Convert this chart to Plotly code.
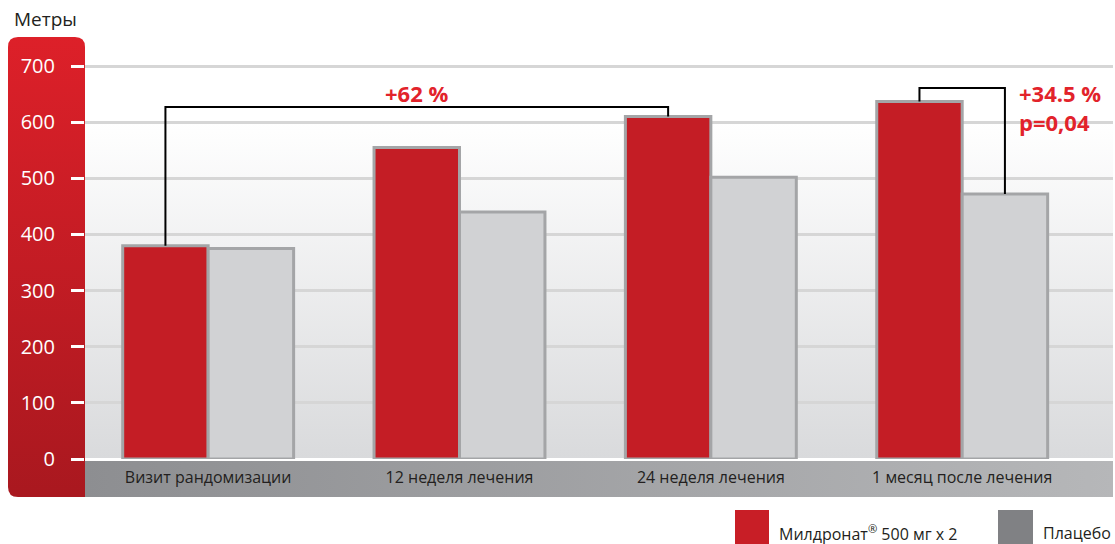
import base64
import plotly.graph_objects as go

# ---------------- data ----------------
categories = ["Визит рандомизации", "12 неделя лечения", "24 неделя лечения", "1 месяц после лечения"]
series_names = ["Милдронат<sup>®</sup> 500 мг x 2", "Плацебо"]
mildronat = [380, 555, 610, 637]
placebo = [375, 440, 502, 472]
y_ticks = [0, 100, 200, 300, 400, 500, 600, 700]
y_title = "Метры"
note_main = "+62 %"
note_side = ["+34.5 %", "p=0,04"]

# ---------------- geometry helpers ----------------
W, H = 1115, 544
ML, MR, MT, MB = 85, 2, 38, 85
PW, PH = W - ML - MR, H - MT - MB
BARGAP = 0.32
OFF = (1 - BARGAP) / 4  # centre offset of each bar inside a group


def px(x):
    return (x - ML) / PW


def py(y):
    return (H - MB - y) / PH


RED = "#c41d25"
GREY_BAR = "#d1d2d4"
TXT_RED = "#e2232b"
DARK = "#231f20"

# decorative background (red axis panel, grey category band, plot gradient)
svg = f"""<svg xmlns='http://www.w3.org/2000/svg' width='{W}' height='{H}' viewBox='0 0 {W} {H}'>
<defs>
<linearGradient id='r' x1='0' y1='0' x2='0' y2='1'>
<stop offset='0' stop-color='#dd2029'/><stop offset='1' stop-color='#a9181f'/></linearGradient>
<linearGradient id='g' x1='0' y1='0' x2='1' y2='0'>
<stop offset='0' stop-color='#8d8e91'/><stop offset='1' stop-color='#b6b7b9'/></linearGradient>
<linearGradient id='b' x1='0' y1='0' x2='0' y2='1'>
<stop offset='0' stop-color='#ffffff'/><stop offset='0.2' stop-color='#ffffff'/><stop offset='1' stop-color='#d9dadc'/></linearGradient>
</defs>
<rect x='{ML}' y='{MT}' width='{PW}' height='{PH}' fill='url(#b)'/>
<rect x='{ML}' y='{H-MB+1}' width='{PW}' height='37' fill='url(#g)'/>
<path d='M18,37 H75 Q85,37 85,47 V497 H18 Q8,497 8,487 V47 Q8,37 18,37 Z' fill='url(#r)'/>
</svg>"""
src = "data:image/svg+xml;base64," + base64.b64encode(svg.encode()).decode()

fig = go.Figure()
fig.add_trace(go.Bar(x=categories, y=mildronat, name=series_names[0],
                     marker=dict(color=RED, line=dict(color="#a4a5a7", width=3))))
fig.add_trace(go.Bar(x=categories, y=placebo, name=series_names[1],
                     marker=dict(color=GREY_BAR, line=dict(color="#a4a5a7", width=3))))

shapes = []
# bracket 1: randomisation -> 24 weeks (Mildronat)
b1 = 627
shapes.append(dict(type="path", xref="x", yref="y",
                   path=f"M{0-OFF},{mildronat[0]} L{0-OFF},{b1} L{2-OFF},{b1} L{2-OFF},{mildronat[2]}",
                   line=dict(color="black", width=2)))
# bracket 2: 1 month after (Mildronat vs placebo)
b2 = 661
shapes.append(dict(type="path", xref="x", yref="y",
                   path=f"M{3-OFF},{mildronat[3]} L{3-OFF},{b2} L{3+OFF},{b2} L{3+OFF},{placebo[3]}",
                   line=dict(color="black", width=2)))
# legend squares
shapes.append(dict(type="rect", xref="paper", yref="paper", x0=px(735), x1=px(769), y0=py(510), y1=py(544),
                   fillcolor="#c81e26", line=dict(width=0)))
shapes.append(dict(type="rect", xref="paper", yref="paper", x0=px(998), x1=px(1033), y0=py(510), y1=py(544),
                   fillcolor="#808184", line=dict(width=0)))

FONT = "Open Sans"
annotations = [
    dict(x=(0 - OFF + 2 - OFF) / 2, y=652, xref="x", yref="y", text=f"<b>{note_main}</b>", showarrow=False,
         xanchor="center", yanchor="middle", font=dict(family=FONT, size=22, color=TXT_RED)),
    dict(x=3.217, y=652, xref="x", yref="y", text=f"<b>{note_side[0]}</b>", showarrow=False,
         xanchor="left", yanchor="middle", font=dict(family=FONT, size=22, color=TXT_RED)),
    dict(x=3.217, y=601, xref="x", yref="y", text=f"<b>{note_side[1]}</b>", showarrow=False,
         xanchor="left", yanchor="middle", font=dict(family=FONT, size=22, color=TXT_RED)),
    dict(x=px(12), y=py(19), xref="paper", yref="paper", text=y_title, showarrow=False,
         xanchor="left", yanchor="middle", font=dict(family=FONT, size=19, color=DARK)),
    dict(x=px(777), y=py(533), xref="paper", yref="paper", text=series_names[0], showarrow=False,
         xanchor="left", yanchor="middle", font=dict(family=FONT, size=16, color=DARK)),
    dict(x=px(1041), y=py(533), xref="paper", yref="paper", text=series_names[1], showarrow=False,
         xanchor="left", yanchor="middle", font=dict(family=FONT, size=16, color=DARK)),
]

fig.update_layout(
    width=W, height=H,
    margin=dict(l=ML, r=MR, t=MT, b=MB, pad=0),
    paper_bgcolor="white", plot_bgcolor="rgba(0,0,0,0)",
    barmode="group", bargap=BARGAP, bargroupgap=0,
    showlegend=False,
    font=dict(family=FONT),
    shapes=shapes, annotations=annotations,
    images=[dict(source=src, xref="paper", yref="paper", x=px(0), y=py(0), sizex=W / PW, sizey=H / PH,
                 xanchor="left", yanchor="top", sizing="stretch", layer="below")],
)
fig.update_xaxes(range=[-0.49, 3.60], showgrid=False, zeroline=False, showline=False, ticks="",
                 tickfont=dict(family=FONT, size=16, color=DARK), ticklabelstandoff=7)
fig.update_yaxes(range=[0, 750], tickvals=y_ticks, showgrid=True, gridcolor="#d6d6d6", gridwidth=2.5,
                 zeroline=True, zerolinecolor="white", zerolinewidth=3,
                 ticks="outside", ticklen=13, tickwidth=3, tickcolor="white", ticklabelstandoff=12,
                 tickfont=dict(family=FONT, size=20, color="white"), showline=False)

fig.write_html("out.html", config={"displayModeBar": False},
               post_script="document.body.style.margin='0';")
